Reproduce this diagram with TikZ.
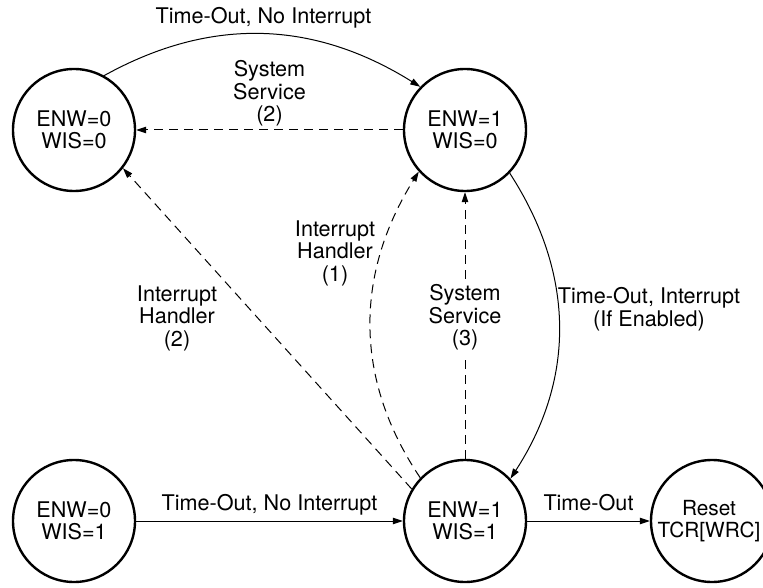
\documentclass[tikz,border=0pt]{standalone}
\usepackage{fontspec}
\setmainfont{TeX Gyre Heros}
\usetikzlibrary{arrows.meta}

\begin{document}
\begin{tikzpicture}[x=1pt, y=1pt,
    every node/.style={font=\fontsize{21.6}{22.5}\selectfont, align=center},
    state/.style={circle, draw, line width=2.4pt, minimum size=122pt, inner sep=0pt},
    trans/.style={line width=1pt, -{Triangle[length=10pt, width=6.5pt]}},
    soft/.style={trans, dash pattern=on 9pt off 6pt}]
    \useasboundingbox (0,0) rectangle (763,587);
    \node[state] (s00) at (74,457) {ENW=0\\WIS=0};
    \node[state] (s10) at (465,457) {ENW=1\\WIS=0};
    \node[state] (s01) at (74,66) {ENW=0\\WIS=1};
    \node[state] (s11) at (465,66) {ENW=1\\WIS=1};
    \node[state] (rst) at (712,66) {};
    \node[font=\fontsize{20.8}{22.5}\selectfont] (rstlbl) at (709,66) {Reset\\TCR[WRC]};
    \draw[trans] (s00.61) to[out=29, in=148] node[above=2pt] {Time-Out, No Interrupt} (s10.136);
    \draw[soft] (s10.west) -- node[above] {System\\Service\\(2)} (s00.east);
    \draw[soft] (s11.149) -- (s00.-38);
    \node (ih2) at (177,269) {Interrupt\\Handler\\(2)};
    \draw[soft] (s11.136) to[out=124, in=-122] (s10.-138);
    \node (ih1) at (335,334) {Interrupt\\Handler\\(1)};
    \draw[soft] (s11.north) -- node[fill=white, pos=0.53] {System\\Service\\(3)} (s10.south);
    \draw[trans] (s10.-44) to[out=-57, in=57] (s11.43);
    \node (toi) at (649,278) {Time-Out, Interrupt\\(If Enabled)};
    \draw[trans] (s01.east) -- node[above=2pt] {Time-Out, No Interrupt} (s11.west);
    \draw[trans] (s11.east) -- node[above=6pt] {Time-Out} (rst.west);
\end{tikzpicture}
\end{document}
